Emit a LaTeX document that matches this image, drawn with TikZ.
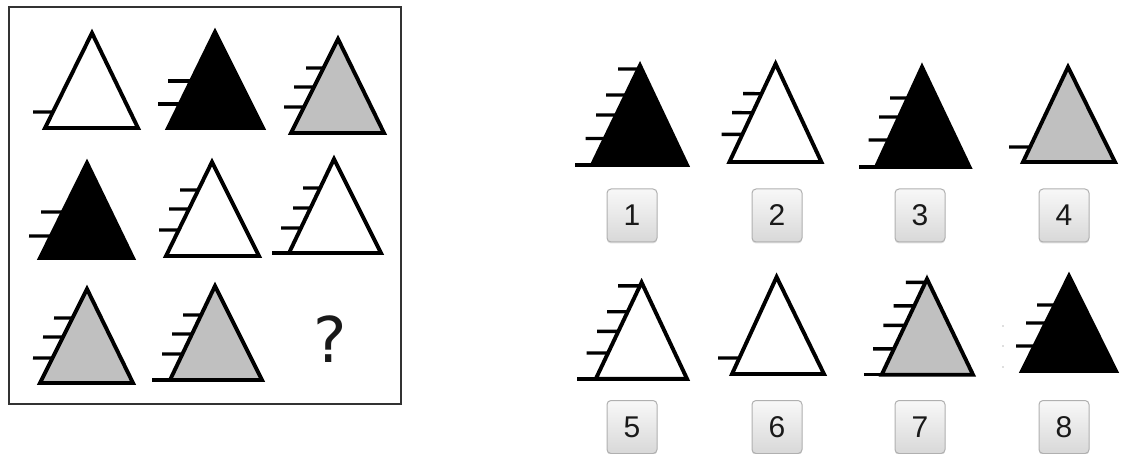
\documentclass[tikz,border=0pt]{standalone}
\usepackage{fontspec}
\setmainfont{Liberation Sans}
\newfontfamily\qfont{DejaVu Sans}
\definecolor{trigray}{HTML}{C0C0C0}
\definecolor{btnborder}{HTML}{B0B0B0}
\definecolor{btntop}{HTML}{F8F8F8}
\definecolor{btnbot}{HTML}{D8D8D8}
\tikzset{
  triedge/.style={line width=3.9pt,line join=miter},
  tickline/.style={line width=3.4pt},
  framebox/.style={line width=2pt,draw=black!80},
  btn/.style={draw=btnborder,line width=1pt,rounded corners=4pt,top color=btntop,bottom color=btnbot,minimum width=50pt,minimum height=53pt,inner sep=0pt,font=\fontsize{30}{32}\selectfont,text=black!90},
  btnshadow/.style={fill=black!12,rounded corners=4pt,minimum width=50pt,minimum height=53pt,inner sep=0pt},
}
\newcommand\mytri[4]{%
  \coordinate (A) at #2; \coordinate (B) at #3; \coordinate (C) at #4;
  \draw[triedge,fill=#1] (B)--(A)--(C)--cycle;}
\newcommand\mytick[2]{%
  \draw[tickline] (#1,#2) -- (intersection cs: first line={(B)--(A)}, second line={(#1,#2)--(#1+10,#2)});}
\newcommand\myext[1]{%
  \draw[tickline] (#1,0|-B) -- (B);}
\newcommand\mybtn[4]{%
  \node[btnshadow] at (#2,#3+1.5) {};
  \node[btn] (#1) at (#2,#3) {#4};}
\begin{document}
\begin{tikzpicture}[x=1pt,y=-1pt]
\useasboundingbox (0,0) rectangle (1121,454);
\fill[white] (0,0) rectangle (1121,454);
% frame
\draw[framebox] (9,7) rectangle (401,404);
% T1
\coordinate (A) at (92,33); \coordinate (B) at (45,128);
\mytick{33}{112}
\mytri{white}{(92,33)}{(45,128)}{(138,128)}
% T2
\coordinate (A) at (215,32); \coordinate (B) at (168,128);
\mytick{168}{81}\mytick{158}{104}
\mytri{black}{(215,32)}{(168,128)}{(263,128)}
% T3
\coordinate (A) at (338,39); \coordinate (B) at (291,133);
\mytick{306}{68}\mytick{294}{87}\mytick{284}{107}
\mytri{trigray}{(338,39)}{(291,133)}{(384,133)}
% T4
\coordinate (A) at (87,163); \coordinate (B) at (40,258);
\mytick{41}{212}\mytick{29}{236}
\mytri{black}{(87,163)}{(40,258)}{(133,258)}
% T5
\coordinate (A) at (212,162); \coordinate (B) at (166,256);
\mytick{180}{190}\mytick{169}{209}\mytick{159}{230}
\mytri{white}{(212,162)}{(166,256)}{(259,256)}
% T6
\coordinate (A) at (334,159); \coordinate (B) at (289,253);
\mytick{303}{188}\mytick{293}{208}\mytick{281}{228}\myext{272}
\mytri{white}{(334,159)}{(289,253)}{(381,253)}
% T7
\coordinate (A) at (87,289); \coordinate (B) at (40,383);
\mytick{54}{318}\mytick{43}{337}\mytick{33}{358}
\mytri{trigray}{(87,289)}{(40,383)}{(133,383)}
% T8
\coordinate (A) at (215,286); \coordinate (B) at (170,380);
\mytick{183}{315}\mytick{172}{334}\mytick{162}{354}\myext{152}
\mytri{trigray}{(215,286)}{(170,380)}{(262,380)}
% question mark
\node[font=\qfont\fontsize{63}{63}\selectfont,inner sep=0pt,text=black!90] (q) at (330,339) {?};
% O1
\coordinate (A) at (640,65.5); \coordinate (B) at (592,165);
\mytick{618}{69}\mytick{606}{95}\mytick{596}{115}\mytick{585.5}{138.5}\myext{575}
\mytri{black}{(640,65.5)}{(592,165)}{(687,165)}
% O2
\coordinate (A) at (775.6,63.8); \coordinate (B) at (729.4,162);
\mytick{743}{93.7}\mytick{732}{112.7}\mytick{721.5}{134.4}
\mytri{white}{(775.6,63.8)}{(729.4,162)}{(821.4,162)}
% O3
\coordinate (A) at (922,67); \coordinate (B) at (876,167);
\mytick{890}{98}\mytick{879}{117}\mytick{868.6}{140}\myext{859}
\mytri{black}{(922,67)}{(876,167)}{(969.5,167)}
% O4
\coordinate (A) at (1068,67); \coordinate (B) at (1023,162);
\mytick{1009}{147}
\mytri{trigray}{(1068,67)}{(1023,162)}{(1115,162)}
% O5
\coordinate (A) at (641.6,282.4); \coordinate (B) at (595.8,378.8);
\mytick{618}{285.8}\mytick{607}{311.7}\mytick{597}{331.3}\mytick{586.5}{353}\myext{577}
\mytri{white}{(641.6,282.4)}{(595.8,378.8)}{(687,378.8)}
% O6
\coordinate (A) at (776.6,277); \coordinate (B) at (732,374);
\mytick{718}{358}
\mytri{white}{(776.6,277)}{(732,374)}{(824,374)}
% O7
\coordinate (A) at (927,279); \coordinate (B) at (881.7,374.7);
\mytick{905.8}{282.4}\mytick{893.7}{305.8}\mytick{883.4}{325.4}\mytick{873}{348.8}\myext{863.8}
\mytri{trigray}{(927,279)}{(881.7,374.7)}{(973,374.7)}
% O8
\coordinate (A) at (1069,276); \coordinate (B) at (1022,371);
\mytick{1037}{305}\mytick{1026}{323}\mytick{1016}{346}
\mytri{black}{(1069,276)}{(1022,371)}{(1116,371)}
\foreach \yy in {326,346,367} \fill[black!25] (1003,\yy) circle (0.8);
% buttons
\mybtn{b1}{632}{215.5}{1}
\mybtn{b2}{777}{215.5}{2}
\mybtn{b3}{920}{215.5}{3}
\mybtn{b4}{1064}{215.5}{4}
\mybtn{b5}{632}{427}{5}
\mybtn{b6}{777}{427}{6}
\mybtn{b7}{920}{427}{7}
\mybtn{b8}{1064}{427}{8}
\end{tikzpicture}
\end{document}
